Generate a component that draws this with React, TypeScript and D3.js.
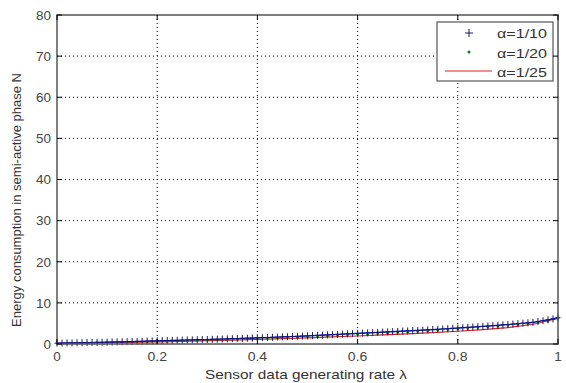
import React from "react";
import * as d3 from "d3";

const xTicks = [0, 0.2, 0.4, 0.6, 0.8, 1];
const yTicks = [0, 10, 20, 30, 40, 50, 60, 70, 80];

// alpha = 1/10, lambda step 0.01
const seriesA = [
  0.20, 0.22, 0.25, 0.27, 0.30, 0.32, 0.35, 0.37, 0.40, 0.42,
  0.45, 0.48, 0.51, 0.54, 0.57, 0.60, 0.63, 0.67, 0.70, 0.74,
  0.78, 0.81, 0.84, 0.87, 0.90, 0.93, 0.97, 1.00, 1.04, 1.07,
  1.10, 1.14, 1.17, 1.21, 1.25, 1.29, 1.33, 1.37, 1.41, 1.45,
  1.50, 1.54, 1.58, 1.63, 1.67, 1.72, 1.77, 1.82, 1.87, 1.93,
  1.98, 2.04, 2.09, 2.15, 2.21, 2.27, 2.33, 2.39, 2.46, 2.52,
  2.58, 2.64, 2.70, 2.76, 2.82, 2.88, 2.94, 3.00, 3.06, 3.12,
  3.18, 3.24, 3.30, 3.37, 3.44, 3.51, 3.58, 3.65, 3.72, 3.80,
  3.88, 3.96, 4.04, 4.12, 4.20, 4.28, 4.37, 4.46, 4.55, 4.64,
  4.74, 4.84, 4.94, 5.05, 5.16, 5.28, 5.47, 5.67, 5.88, 6.10,
  6.40,
];
// alpha = 1/20, lambda step 0.02
const seriesB = [
  0.10, 0.14, 0.19, 0.24, 0.29, 0.34, 0.39, 0.44, 0.50, 0.56,
  0.62, 0.68, 0.74, 0.80, 0.86, 0.93, 1.00, 1.07, 1.14, 1.22,
  1.30, 1.38, 1.47, 1.56, 1.65, 1.75, 1.85, 1.95, 2.06, 2.17,
  2.28, 2.40, 2.52, 2.64, 2.77, 2.90, 3.04, 3.18, 3.32, 3.47,
  3.62, 3.78, 3.94, 4.11, 4.29, 4.48, 4.68, 4.90, 5.14, 5.50,
  6.20,
];
// alpha = 1/25, lambda step 0.05
const seriesC = [
  0.10, 0.20, 0.30, 0.40, 0.52, 0.66, 0.80, 0.96, 1.13, 1.31,
  1.50, 1.72, 1.95, 2.20, 2.47, 2.77, 3.10, 3.50, 4.00, 4.80,
  6.20,
];
const legendLabels = ["α=1/10", "α=1/20", "α=1/25"];

const W = 566, H = 383;
const L = 57, R = 558, T = 15, B = 344;

function numWidth(s: string) {
  let w = 0;
  for (const c of s) w += c === "." ? 4.5 : 7.5;
  return w;
}

export default function App() {
  const x = d3.scaleLinear().domain([0, 1]).range([L, R]);
  const y = d3.scaleLinear().domain([0, 80]).range([B, T]);
  const ptsA = seriesA.map((v, i) => [i / 100, v] as [number, number]);
  const ptsB = seriesB.map((v, i) => [i / 50, v] as [number, number]);
  const ptsC = seriesC.map((v, i) => [i / 20, v] as [number, number]);
  const line = d3.line<[number, number]>().x(d => x(d[0])).y(d => y(d[1]));
  const axisColor = "#555";
  const font = "Liberation Sans, Arial, sans-serif";
  return (
    <svg width={W} height={H} style={{ position: "absolute", left: 0, top: 0 }} fontFamily={font}>
      <rect x={0} y={0} width={W} height={H} fill="#fff" />
      {/* grid */}
      {xTicks.slice(1, -1).map(t => (
        <line key={"gx" + t} x1={x(t)} x2={x(t)} y1={T} y2={B} stroke="#000" strokeWidth={1} strokeDasharray="1,3" />
      ))}
      {yTicks.slice(1, -1).map(t => (
        <line key={"gy" + t} x1={L} x2={R} y1={y(t)} y2={y(t)} stroke="#000" strokeWidth={1} strokeDasharray="1,3" />
      ))}
      {/* data */}
      <path d={line(ptsC) || ""} fill="none" stroke="#e02020" strokeWidth={1.2} />
      <path d={line(ptsA) || ""} fill="none" stroke="#0000ff" strokeWidth={1.2} />
      {ptsB.map((p, i) => (
        <circle key={"b" + i} cx={x(p[0])} cy={y(p[1])} r={1.3} fill="#0a7a1a" />
      ))}
      {ptsA.map((p, i) => (
        <g key={"a" + i} stroke="#1a1a66" strokeWidth={1}>
          <line x1={x(p[0]) - 2.5} x2={x(p[0]) + 2.5} y1={y(p[1])} y2={y(p[1])} />
          <line x1={x(p[0])} x2={x(p[0])} y1={y(p[1]) - 3.5} y2={y(p[1]) + 3.5} />
        </g>
      ))}
      {/* frame */}
      <rect x={L} y={T} width={R - L} height={B - T} fill="none" stroke={axisColor} strokeWidth={1.5} />
      {xTicks.map(t => (
        <g key={"tx" + t}>
          <line x1={x(t)} x2={x(t)} y1={B} y2={B - 5} stroke="#000" />
          <line x1={x(t)} x2={x(t)} y1={T} y2={T + 5} stroke="#000" />
          <text x={x(t)} y={361} textAnchor="middle" fontSize={13.5} fill="#444"
            textLength={numWidth(String(t))} lengthAdjust="spacingAndGlyphs">{t}</text>
        </g>
      ))}
      {yTicks.map(t => (
        <g key={"ty" + t}>
          <line x1={L} x2={L + 5} y1={y(t)} y2={y(t)} stroke="#000" />
          <line x1={R} x2={R - 5} y1={y(t)} y2={y(t)} stroke="#000" />
          <text x={51} y={y(t) + 4.8} textAnchor="end" fontSize={13.5} fill="#444"
            textLength={numWidth(String(t))} lengthAdjust="spacingAndGlyphs">{t}</text>
        </g>
      ))}
      {/* legend */}
      <rect x={437} y={22} width={116} height={59} fill="#fff" stroke={axisColor} strokeWidth={1.2} />
      <g stroke="#1a1a66" strokeWidth={1}>
        <line x1={465} x2={473} y1={33} y2={33} />
        <line x1={469} x2={469} y1={29} y2={37} />
      </g>
      <circle cx={469} cy={52} r={1.5} fill="#0a7a1a" />
      <line x1={445} x2={492} y1={71} y2={71} stroke="#e02020" strokeWidth={1.2} />
      {legendLabels.map((s, i) => (
        <text key={s} x={497} y={38 + i * 19.5} fontSize={12.5} fill="#333"
          textLength={50} lengthAdjust="spacingAndGlyphs">{s}</text>
      ))}
      {/* axis labels */}
      <text x={306} y={379} textAnchor="middle" fontSize={13} fill="#333"
        textLength={202} lengthAdjust="spacingAndGlyphs">Sensor data generating rate λ</text>
      <text transform="translate(21,200) rotate(-90)" textAnchor="middle" fontSize={12.5} fill="#333"
        textLength={254} lengthAdjust="spacingAndGlyphs">
        Energy consumption in semi-active phase N
      </text>
    </svg>
  );
}
